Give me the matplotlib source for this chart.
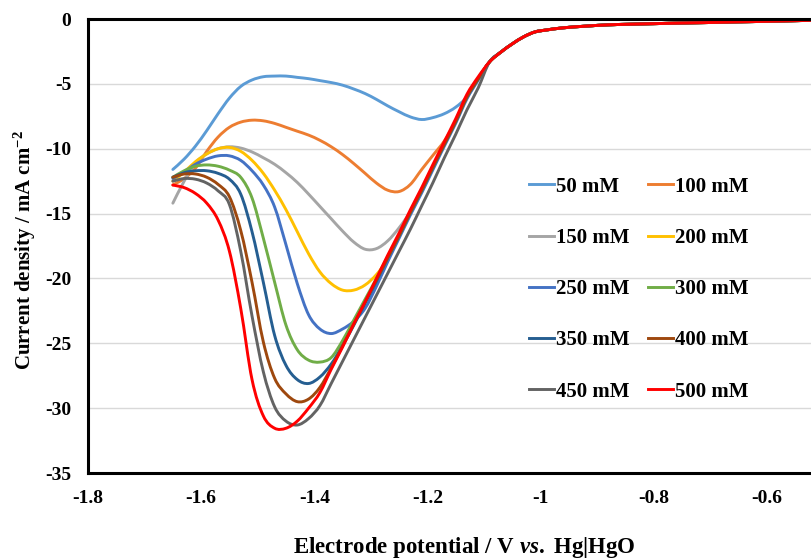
import numpy as np
import matplotlib
matplotlib.use("Agg")
import matplotlib.pyplot as plt
from matplotlib.path import Path
from matplotlib.patches import PathPatch
from matplotlib.lines import Line2D

plt.rcParams["font.family"] = ["Liberation Serif", "DejaVu Serif"]
plt.rcParams["font.weight"] = "bold"
plt.rcParams["axes.unicode_minus"] = False
plt.rcParams["mathtext.fontset"] = "custom"
plt.rcParams["mathtext.rm"] = "Liberation Serif:bold"
plt.rcParams["mathtext.it"] = "Liberation Serif:italic:bold"
plt.rcParams["mathtext.default"] = "rm"

# potential grid (V vs Hg|HgO) where the curves differ
x_main = [-1.65, -1.63, -1.61, -1.59, -1.57, -1.55, -1.53, -1.51, -1.49, -1.47,
          -1.45, -1.43, -1.41, -1.39, -1.37, -1.35, -1.33, -1.31, -1.29, -1.27,
          -1.25, -1.23, -1.21, -1.19, -1.17, -1.15, -1.13, -1.11]

# shared tail where all curves overlap
x_tail = [-1.09, -1.07, -1.05, -1.03, -1.01, -0.99, -0.96, -0.92, -0.88, -0.84,
          -0.80, -0.75, -0.70, -0.65, -0.60, -0.55, -0.52]
y_tail = [-3.3, -2.55, -1.92, -1.38, -1.0, -0.85, -0.68, -0.55, -0.45, -0.4,
          -0.36, -0.31, -0.27, -0.22, -0.18, -0.13, -0.1]

# current density (mA cm-2) per concentration
j_50 = [-11.6, -10.8, -9.8, -8.6, -7.3, -6.1, -5.2, -4.7, -4.45, -4.4,
        -4.4, -4.5, -4.6, -4.75, -4.9, -5.1, -5.4, -5.75, -6.2, -6.7,
        -7.15, -7.55, -7.75, -7.6, -7.3, -6.8, -6.0, -4.6]
j_100 = [-12.8, -12.3, -11.5, -10.2, -9.1, -8.35, -7.95, -7.8, -7.85, -8.05,
         -8.35, -8.65, -8.95, -9.35, -9.85, -10.45, -11.15, -11.9, -12.65, -13.2,
         -13.3, -12.75, -11.6, -10.5, -9.4, -7.9, -6.0, -4.6]
j_150 = [-14.2, -12.5, -11.1, -10.4, -10.0, -9.85, -9.95, -10.25, -10.7, -11.2,
         -11.85, -12.6, -13.5, -14.45, -15.4, -16.35, -17.2, -17.75, -17.7, -17.1,
         -16.1, -14.85, -13.2, -11.4, -9.65, -7.9, -6.0, -4.6]
j_200 = [-12.5, -11.8, -11.0, -10.4, -10.0, -9.9, -10.2, -10.9, -11.9, -13.2,
         -14.7, -16.4, -18.1, -19.5, -20.4, -20.9, -20.9, -20.5, -19.7, -18.5,
         -16.7, -14.9, -13.2, -11.4, -9.65, -7.9, -6.0, -4.6]
j_250 = [-12.3, -11.8, -11.2, -10.8, -10.55, -10.55, -10.9, -11.7, -12.8, -14.5,
         -17.4, -20.4, -22.8, -23.9, -24.25, -23.9, -23.3, -22.3, -20.6, -18.7,
         -16.9, -15.1, -13.4, -11.6, -9.8, -8.05, -6.15, -4.7]
j_300 = [-12.2, -11.7, -11.35, -11.25, -11.35, -11.65, -12.2, -13.8, -16.9, -20.3,
         -23.6, -25.5, -26.3, -26.45, -26.1, -24.8, -23.2, -21.6, -20.0, -18.3,
         -16.7, -14.9, -13.2, -11.4, -9.65, -7.9, -6.0, -4.6]
j_350 = [-12.2, -11.85, -11.7, -11.7, -11.9, -12.35, -13.5, -16.4, -20.3, -24.4,
         -26.7, -27.8, -28.1, -27.6, -26.6, -25.2, -23.6, -21.9, -20.2, -18.4,
         -16.7, -14.9, -13.2, -11.4, -9.65, -7.9, -6.0, -4.6]
j_400 = [-12.2, -11.95, -11.95, -12.2, -12.75, -13.7, -16.3, -20.3, -24.9, -27.7,
         -28.9, -29.5, -29.3, -28.4, -26.9, -25.2, -23.5, -21.8, -20.1, -18.4,
         -16.7, -14.9, -13.2, -11.4, -9.65, -7.9, -6.0, -4.6]
j_450 = [-12.5, -12.3, -12.35, -12.65, -13.25, -14.3, -17.9, -22.9, -27.2, -29.9,
         -31.0, -31.3, -30.8, -29.8, -28.1, -26.4, -24.7, -23.0, -21.3, -19.6,
         -17.9, -16.2, -14.4, -12.6, -10.7, -8.9, -7.0, -5.3]
j_500 = [-12.8, -13.0, -13.45, -14.2, -15.5, -17.9, -22.3, -27.8, -30.6, -31.55,
         -31.55, -31.0, -30.0, -28.8, -27.0, -25.3, -23.5, -21.8, -20.0, -18.2,
         -16.5, -14.7, -13.0, -11.2, -9.45, -7.7, -5.8, -4.45]

labels = ["50 mM", "100 mM", "150 mM", "200 mM", "250 mM",
          "300 mM", "350 mM", "400 mM", "450 mM", "500 mM"]
series = [j_50, j_100, j_150, j_200, j_250, j_300, j_350, j_400, j_450, j_500]
colors = ["#5B9BD5", "#ED7D31", "#A5A5A5", "#FFC000", "#4472C4",
          "#70AD47", "#255E91", "#9E480E", "#636363", "#FF0000"]

x_ticks = [-1.8, -1.6, -1.4, -1.2, -1.0, -0.8, -0.6]
x_ticklabels = ["-1.8", "-1.6", "-1.4", "-1.2", "-1", "-0.8", "-0.6"]
y_ticks = [0, -5, -10, -15, -20, -25, -30, -35]


def smooth_path(xs, ys):
    # Excel-like smoothed line: Catmull-Rom segments as cubic Bezier curves
    pts = np.column_stack([xs, ys])
    n = len(pts)
    verts = [pts[0]]
    codes = [Path.MOVETO]
    for i in range(n - 1):
        p0 = pts[i - 1] if i > 0 else pts[i]
        p1 = pts[i]
        p2 = pts[i + 1]
        p3 = pts[i + 2] if i + 2 < n else pts[i + 1]
        verts += [p1 + (p2 - p0) / 6, p2 - (p3 - p1) / 6, p2]
        codes += [Path.CURVE4] * 3
    return Path(verts, codes)


fig = plt.figure(figsize=(8.12, 5.59), dpi=100)
ax = fig.add_axes([88 / 812, 86 / 559, 724 / 812, 454 / 559])

x_full = np.array(x_main + x_tail)
handles = []
for j, lab, col in zip(series, labels, colors):
    y_full = np.array(j + y_tail)
    patch = PathPatch(smooth_path(x_full, y_full), facecolor="none", edgecolor=col,
                      lw=2.1, capstyle="round", joinstyle="round")
    ax.add_patch(patch)
    handles.append(Line2D([], [], color=col, lw=2.1, label=lab))

ax.set_xlim(-1.8, -0.52)
ax.set_ylim(-35, 0)
ax.set_xticks(x_ticks)
ax.set_xticklabels(x_ticklabels)
ax.set_yticks(y_ticks)
ax.set_yticklabels([str(v) for v in y_ticks])
ax.tick_params(length=0, labelsize=14, pad=12)
for t in ax.get_xticklabels() + ax.get_yticklabels():
    t.set_fontweight("bold")

ax.yaxis.grid(True, color="#D9D9D9", lw=1.0)
ax.set_axisbelow(True)
for side in ["left", "bottom", "top"]:
    ax.spines[side].set_linewidth(2.2)
    ax.spines[side].set_color("black")
ax.spines["right"].set_visible(False)

# legend filled row by row (matplotlib fills column by column)
order = [0, 2, 4, 6, 8, 1, 3, 5, 7, 9]
leg = ax.legend([handles[i] for i in order], [labels[i] for i in order],
                ncol=2, loc="center", bbox_to_anchor=(0.761, 0.405), frameon=False,
                prop={"family": "Liberation Serif", "weight": "bold", "size": 15},
                handlelength=1.2, handletextpad=0.1, columnspacing=0.9,
                labelspacing=1.5)

fig.text(464 / 812, 1 - 548 / 559, r"Electrode potential / V $\mathit{vs.}$ Hg|HgO",
         ha="center", va="center", fontsize=16.5, fontweight="bold")
fig.text(25 / 812, 1 - 250 / 559, r"Current density / mA cm$^{-2}$",
         ha="center", va="center", rotation=90, fontsize=15, fontweight="bold")

plt.savefig("out.png", dpi=100)
